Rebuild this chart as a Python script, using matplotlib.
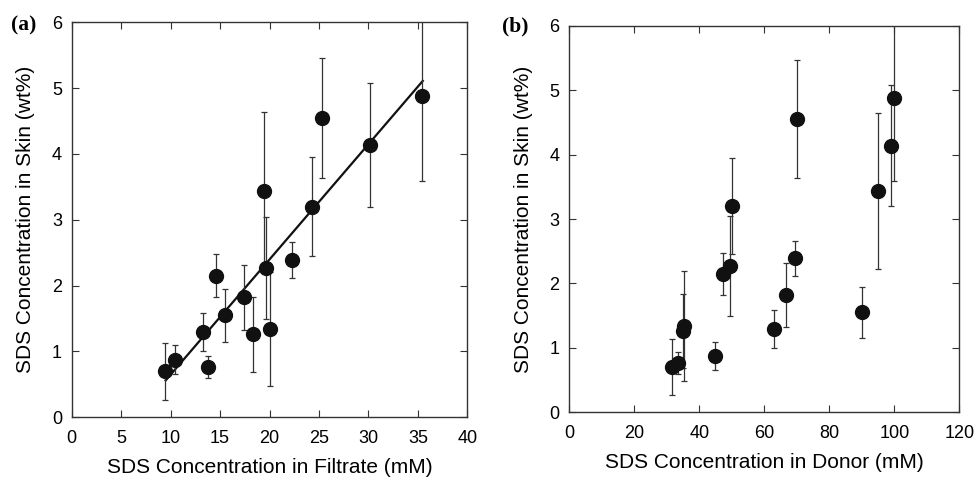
import matplotlib
matplotlib.use("Agg")
import matplotlib.pyplot as plt

# SDS in skin vs filtrate / donor concentration
filtrate = [9.47, 10.48, 13.24, 13.75, 14.59, 15.53, 17.42, 18.3,
            19.4, 19.68, 20.08, 22.24, 24.29, 25.3, 30.15, 35.44]
donor = [31.7, 44.8, 62.9, 33.3, 47.3, 90.0, 66.6, 34.9,
         95.1, 49.5, 35.2, 69.4, 50.05, 70.0, 99.0, 100.0]
skin = [0.70, 0.876, 1.29, 0.76, 2.15, 1.55, 1.82, 1.26,
        3.43, 2.27, 1.34, 2.39, 3.20, 4.55, 4.14, 4.88]
skin_err = [0.43, 0.22, 0.29, 0.17, 0.33, 0.40, 0.50, 0.57,
            1.21, 0.77, 0.86, 0.27, 0.75, 0.91, 0.94, 1.29]
fit_x = [9.5, 35.5]
fit_y = [0.56, 5.11]

plt.rcParams['font.family'] = ['Liberation Sans', 'DejaVu Sans']

fig = plt.figure(figsize=(9.79, 4.8), dpi=100)
W, H = 979, 480
ax1 = fig.add_axes([71.7 / W, 1 - 417.3 / H, (467.3 - 71.7) / W, (417.3 - 22.3) / H])
ax2 = fig.add_axes([569.3 / W, 1 - 412.3 / H, (959.3 - 569.3) / W, (412.3 - 25.7) / H])

def style(ax, xmax, xstep, xlabel):
    ax.set_xlim(0, xmax)
    ax.set_ylim(0, 6)
    ax.set_xticks(range(0, xmax + 1, xstep))
    ax.set_yticks(range(0, 7))
    ax.tick_params(direction='in', top=True, right=True, length=5, width=0.8,
                   labelsize=13, color='#333333')
    ax.tick_params(axis='x', pad=9)
    ax.tick_params(axis='y', pad=7)
    for s in ax.spines.values():
        s.set_linewidth(1.0)
        s.set_color('#333333')
    ax.set_xlabel(xlabel, fontsize=15, labelpad=8)
    ax.set_ylabel('SDS Concentration in Skin (wt%)', fontsize=15, labelpad=12)

ax1.errorbar(filtrate, skin, yerr=skin_err, fmt='o', color='#111111', ms=10,
             ecolor='#333333', elinewidth=0.9, capsize=2, capthick=0.9, zorder=3)
ax1.plot(fit_x, fit_y, color='#111111', lw=1.6, zorder=2)
style(ax1, 40, 5, 'SDS Concentration in Filtrate (mM)')

ax2.errorbar(donor, skin, yerr=skin_err, fmt='o', color='#111111', ms=10,
             ecolor='#333333', elinewidth=0.9, capsize=2, capthick=0.9, zorder=3)
style(ax2, 120, 20, 'SDS Concentration in Donor (mM)')

fig.text(11 / W, 1 - 25 / H, '(a)', family='Liberation Serif', weight='bold',
         fontsize=15.5, va='center', ha='left')
fig.text(502 / W, 1 - 26.5 / H, '(b)', family='Liberation Serif', weight='bold',
         fontsize=15.5, va='center', ha='left')

fig.savefig('out.png', dpi=100)
